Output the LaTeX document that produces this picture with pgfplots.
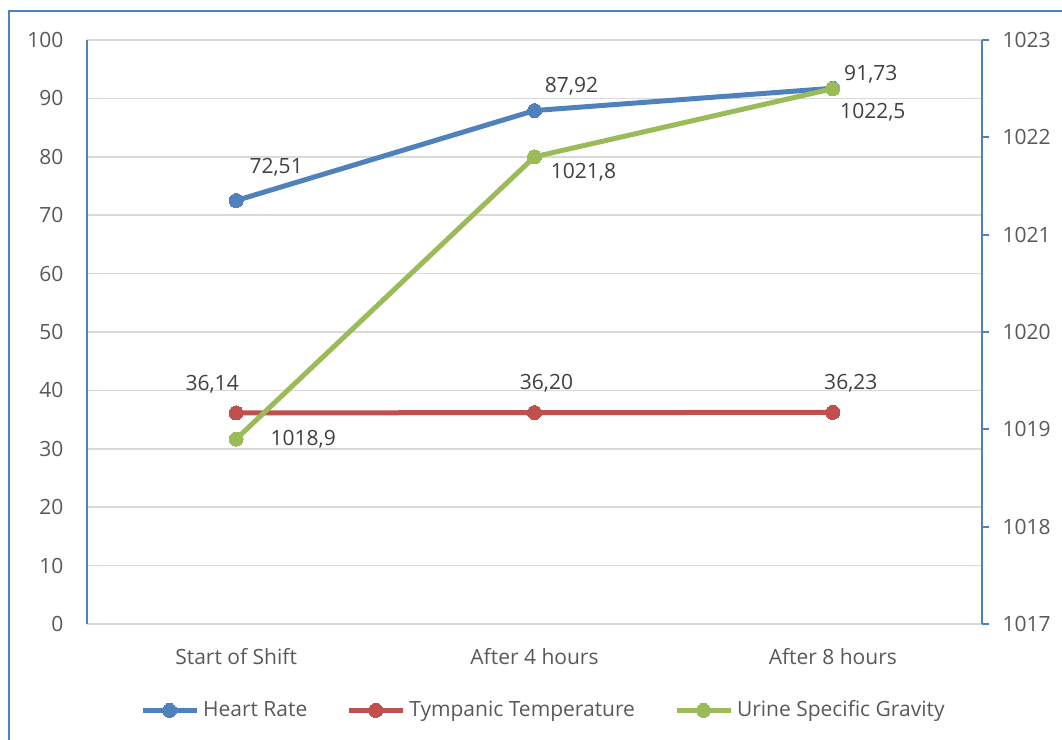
\documentclass[border=0pt]{standalone}
\usepackage{fontspec}
\setmainfont{Open Sans}
\usepackage{pgfplots}
\pgfplotsset{compat=1.18}

\definecolor{hrblue}{HTML}{4F81BD}
\definecolor{ttred}{HTML}{C0504D}
\definecolor{usgreen}{HTML}{9BBB59}
\definecolor{gridgray}{HTML}{D9D9D9}
\definecolor{ticktext}{HTML}{595959}
\definecolor{labtext}{HTML}{404040}
\newcommand\lab{\fontsize{10.5}{12.6}\selectfont}

\pgfplotsset{
  base/.style={
    scale only axis,
    width=447.5pt, height=292pt,
    at={(43.5pt,58pt)}, anchor=south west,
    xmin=-0.5, xmax=2.5,
    tick label style={font=\lab, text=ticktext},
    /pgf/number format/assume math mode=true,
  },
  series/.style={
    color=#1, line width=2.5pt, mark=*, mark size=3.5pt,
    mark options={fill=#1, draw=#1, line width=0pt},
    nodes near coords, point meta=explicit symbolic,
    visualization depends on={value \thisrow{dx}\as\dx},
    visualization depends on={value \thisrow{dy}\as\dy},
    every node near coord/.append style={font=\lab, text=labtext,
      anchor=center, xshift=\dx pt, yshift=\dy pt},
  },
  legend image code/.code={
    \draw[#1, mark repeat=2, mark phase=2]
      plot coordinates {(0pt,0pt) (13.5pt,0pt) (27pt,0pt)};
  },
}

\begin{document}
\begin{tikzpicture}
\useasboundingbox (0,0) rectangle (531pt,370pt);
\draw[hrblue, line width=1pt] (4.5pt,-20pt) -- (4.5pt,364.5pt) -- (560pt,364.5pt);

\begin{axis}[
  base,
  ymin=0, ymax=100, ytick distance=10,
  axis y line*=left,
  axis x line*=bottom,
  x axis line style={draw=none},
  y axis line style={hrblue, line width=0.9pt},
  xtick={0,1,2},
  xticklabels={Start of Shift, After 4 hours, After 8 hours},
  xticklabel style={yshift=-8.5pt},
  yticklabel style={xshift=-8.3pt},
  tick style={draw=none},
  ymajorgrids,
  grid style={gridgray, line width=0.8pt},
  legend columns=3,
  legend style={draw=none, fill=none, font=\lab, text=ticktext,
    at={(0.511,-0.148)}, anchor=center,
    /tikz/every even column/.append style={column sep=17.5pt}},
  legend cell align=left,
]
\addplot[series=hrblue] table[x=x, y=y, meta=lbl] {
x y     lbl   dx   dy
0 72.51 72,51 20   16.5
1 87.92 87,92 18.5 12
2 91.73 91,73 19   7
};
\addlegendentry{Heart Rate}
\addplot[series=ttred] table[x=x, y=y, meta=lbl] {
x y     lbl   dx   dy
0 36.14 36,14 -12  14.5
1 36.20 36,20 6    14.5
2 36.23 36,23 9    14.5
};
\addlegendentry{Tympanic Temperature}
\addlegendimage{color=usgreen, line width=2.5pt, mark=*, mark size=3.5pt,
  mark options={fill=usgreen, draw=usgreen, line width=0pt}}
\addlegendentry{Urine Specific Gravity}
\end{axis}

\begin{axis}[
  base,
  ymin=1017, ymax=1023, ytick distance=1,
  axis y line*=right,
  axis x line=none,
  y axis line style={hrblue, line width=0.9pt},
  ytick align=outside,
  major tick length=3.5pt,
  ytick style={hrblue, line width=0.9pt},
  yticklabel style={xshift=3.3pt},
  /pgf/number format/1000 sep={},
]
\addplot[series=usgreen] table[x=x, y=y, meta=lbl] {
x y      lbl    dx   dy
0 1018.9 1018,9 33.5 0
1 1021.8 1021,8 24.5 -7.5
2 1022.5 1022,5 20   -12
};
\end{axis}
\end{tikzpicture}
\end{document}
